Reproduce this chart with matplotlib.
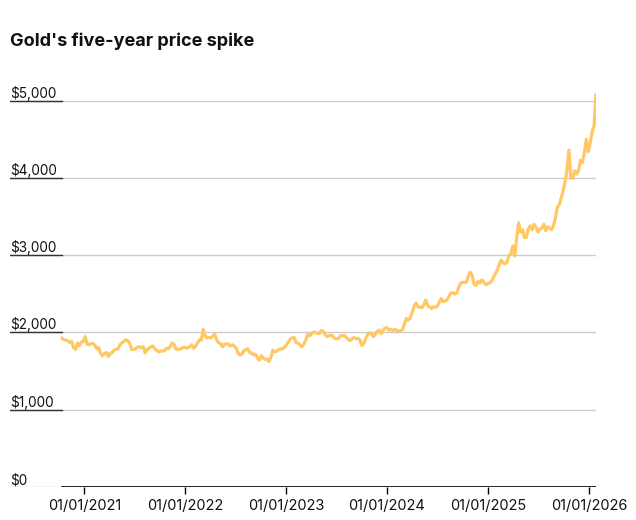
import numpy as np
import pandas as pd
import matplotlib
matplotlib.use("Agg")
import matplotlib.pyplot as plt
import matplotlib.transforms as mtransforms

plt.rcParams['font.family'] = ['Inter', 'DejaVu Sans']

# weekly gold price (USD/oz), Mondays from 2020-10-12
price_2020 = [1925, 1905, 1900, 1895, 1870, 1885, 1805, 1780, 1865, 1830, 1875, 1880]
price_2021 = [1945, 1850, 1840, 1855,
              1860, 1835, 1790, 1805,
              1725, 1700, 1730, 1740, 1690,
              1730, 1740, 1775, 1780,
              1790, 1840, 1865, 1885, 1905,
              1895, 1860, 1780, 1780,
              1790, 1810, 1815, 1800,
              1815, 1735, 1780, 1795, 1815,
              1825, 1790, 1765, 1750,
              1760, 1760, 1765, 1795,
              1790, 1820, 1865, 1845, 1785,
              1780, 1785, 1795, 1810]
price_2022 = [1800, 1800, 1815, 1840, 1795,
              1820, 1860, 1905, 1900,
              2040, 1955, 1930, 1935,
              1930, 1955, 1975, 1900,
              1865, 1855, 1815, 1850, 1850,
              1850, 1825, 1840, 1825,
              1800, 1735, 1710, 1720,
              1765, 1775, 1790, 1740, 1735,
              1710, 1720, 1675, 1640,
              1700, 1670, 1650, 1655, 1625,
              1680, 1770, 1750, 1755,
              1780, 1785, 1790, 1810]
price_2023 = [1840, 1875, 1915, 1930, 1935,
              1870, 1860, 1840, 1815,
              1850, 1900, 1975, 1955,
              1985, 2005, 2000, 1990,
              1985, 2025, 2015, 1975, 1945,
              1960, 1960, 1955, 1920,
              1920, 1925, 1955, 1960, 1960,
              1935, 1910, 1895, 1920,
              1935, 1920, 1925, 1905,
              1830, 1860, 1920, 1975, 1995,
              1980, 1945, 1980, 2015,
              2030, 1985, 2030, 2060]
price_2024 = [2060, 2030, 2040, 2025, 2040,
              2025, 2020, 2025, 2035,
              2110, 2180, 2160, 2190,
              2260, 2340, 2380, 2330, 2330,
              2320, 2360, 2420, 2345,
              2330, 2310, 2330, 2325,
              2340, 2390, 2440, 2400, 2410,
              2420, 2470, 2510, 2515,
              2500, 2510, 2580, 2640, 2650,
              2650, 2650, 2730, 2780,
              2740, 2620, 2610, 2660,
              2640, 2680, 2650, 2620, 2630]
price_2025 = [2640, 2665, 2710, 2760,
              2810, 2880, 2935, 2900,
              2890, 2910, 3000, 3020, 3120,
              2990, 3220, 3420, 3300,
              3330, 3230, 3230, 3340,
              3380, 3330, 3400, 3360, 3300,
              3340, 3350, 3400, 3320,
              3370, 3350, 3330, 3380,
              3480, 3620, 3650, 3740, 3830,
              3950, 4100, 4360, 4000,
              4000, 4090, 4050, 4100,
              4230, 4200, 4330, 4500, 4340]
price_2026 = [4450, 4600, 4670, 5080]

prices = price_2020 + price_2021 + price_2022 + price_2023 + price_2024 + price_2025 + price_2026
dates = pd.date_range("2020-10-12", periods=len(prices), freq="7D")

y_ticks = [0, 1000, 2000, 3000, 4000, 5000]
y_labels = ["$0", "$1,000", "$2,000", "$3,000", "$4,000", "$5,000"]
x_ticks = pd.to_datetime(["2021-01-01", "2022-01-01", "2023-01-01",
                          "2024-01-01", "2025-01-01", "2026-01-01"])
x_labels = ["01/01/2021", "01/01/2022", "01/01/2023",
            "01/01/2024", "01/01/2025", "01/01/2026"]

fig = plt.figure(figsize=(6.36, 5.2), dpi=100)
ax = fig.add_axes([10 / 636, 33 / 520, 586 / 636, 402 / 520])

ax.plot(dates, prices, color='#ffc864', lw=2.3, solid_joinstyle='round', zorder=3)

ax.set_xlim(pd.Timestamp("2020-04-07"), pd.Timestamp("2026-01-26"))
ax.set_ylim(0, 5203)

for s in ax.spines.values():
    s.set_visible(False)

trans = mtransforms.blended_transform_factory(ax.transAxes, ax.transData)
tick_end = 52 / 586
for v, lab in zip(y_ticks, y_labels):
    ax.axhline(v, color='#cccccc', lw=1, zorder=1)
    if v > 0:
        ax.plot([0, tick_end], [v, v], transform=trans, color='#333333', lw=1, zorder=2)
    ax.text(0, v, lab, transform=mtransforms.offset_copy(trans, fig=fig, y=3, units='dots'),
            ha='left', va='baseline', fontsize=9.8, color='#111111')
ax.axhline(0, xmin=tick_end, xmax=1, color='black', lw=1.2, zorder=2)

ax.set_yticks([])
ax.set_xticks(x_ticks)
ax.set_xticklabels(x_labels)
ax.tick_params(axis='x', length=5, width=1, color='black', pad=3.5, labelsize=10.5, labelcolor='#111111')

fig.text(10 / 636, 1 - 45.7 / 520, "Gold's five-year price spike", fontsize=13,
         fontweight='bold', va='baseline', color='#111111')

fig.savefig('out.png', dpi=100)
